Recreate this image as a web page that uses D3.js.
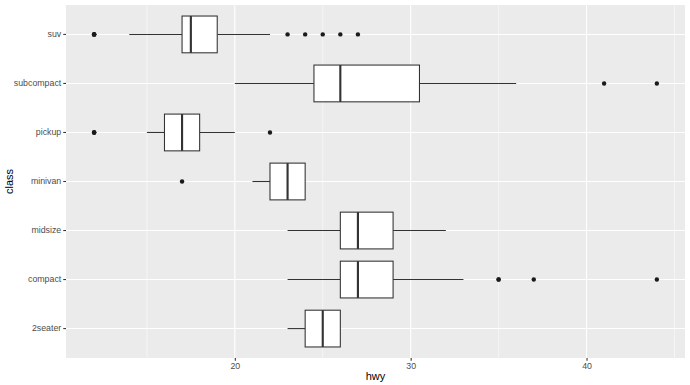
<!DOCTYPE html>
<html>
<head>
<meta charset="utf-8">
<script src="https://cdn.jsdelivr.net/npm/d3@7"></script>
<style>
  body { margin: 0; background: #fff; }
  text { font-family: "Liberation Sans", Arial, sans-serif; }
</style>
</head>
<body>
<div id="chart-area"></div>
<script>
// hwy by class (mpg)
var classes = ["2seater", "compact", "midsize", "minivan", "pickup", "subcompact", "suv"];
var lowerWhisker = [23, 23, 23, 21, 15, 20, 14];
var q1 = [24, 26, 26, 22, 16, 24.5, 17];
var median = [25, 27, 27, 23, 17, 26, 17.5];
var q3 = [26, 29, 29, 24, 18, 30.5, 19];
var upperWhisker = [26, 33, 32, 24, 20, 36, 22];
var outliers = [
    [],
    [35, 37, 35, 44],
    [],
    [17],
    [12, 12, 12, 22],
    [44, 41],
    [12, 12, 12, 12, 23, 24, 25, 26, 27]
];
var xTicks = [20, 30, 40];
var xMinor = [15, 25, 35, 45];

var width = 690, height = 385;
var margin = {top: 5, right: 5, bottom: 27, left: 66};

var svg = d3.select("#chart-area").append("svg")
    .attr("width", width)
    .attr("height", height);

var x = d3.scaleLinear()
    .domain([10.4, 45.6])
    .range([margin.left, width - margin.right]);

var y = d3.scaleBand()
    .domain(classes.slice().reverse())
    .range([margin.top, height - margin.bottom])
    .paddingOuter(0.1)
    .paddingInner(0);

var pw = width - margin.right - margin.left;
var ph = height - margin.bottom - margin.top;

svg.append("rect")
    .attr("x", margin.left).attr("y", margin.top)
    .attr("width", pw).attr("height", ph)
    .attr("fill", "#EBEBEB");

// grid
svg.selectAll(".minor").data(xMinor).enter().append("line")
    .attr("x1", d => x(d)).attr("x2", d => x(d))
    .attr("y1", margin.top).attr("y2", margin.top + ph)
    .attr("stroke", "#fff").attr("stroke-width", 0.53);

svg.selectAll(".major").data(xTicks).enter().append("line")
    .attr("x1", d => x(d)).attr("x2", d => x(d))
    .attr("y1", margin.top).attr("y2", margin.top + ph)
    .attr("stroke", "#fff").attr("stroke-width", 1.07);

svg.selectAll(".hgrid").data(classes).enter().append("line")
    .attr("x1", margin.left).attr("x2", margin.left + pw)
    .attr("y1", d => y(d) + y.bandwidth() / 2).attr("y2", d => y(d) + y.bandwidth() / 2)
    .attr("stroke", "#fff").attr("stroke-width", 1.07);

// boxes
var bw = y.bandwidth() * 0.75;
var g = svg.selectAll(".box").data(classes).enter().append("g");

g.append("line")
    .attr("x1", (d, i) => x(lowerWhisker[i])).attr("x2", (d, i) => x(q1[i]))
    .attr("y1", d => y(d) + y.bandwidth() / 2).attr("y2", d => y(d) + y.bandwidth() / 2)
    .attr("stroke", "#333").attr("stroke-width", 1.07);

g.append("line")
    .attr("x1", (d, i) => x(q3[i])).attr("x2", (d, i) => x(upperWhisker[i]))
    .attr("y1", d => y(d) + y.bandwidth() / 2).attr("y2", d => y(d) + y.bandwidth() / 2)
    .attr("stroke", "#333").attr("stroke-width", 1.07);

g.append("rect")
    .attr("x", (d, i) => x(q1[i]))
    .attr("width", (d, i) => x(q3[i]) - x(q1[i]))
    .attr("y", d => y(d) + (y.bandwidth() - bw) / 2)
    .attr("height", bw)
    .attr("fill", "#fff").attr("stroke", "#333").attr("stroke-width", 1.07);

g.append("line")
    .attr("x1", (d, i) => x(median[i])).attr("x2", (d, i) => x(median[i]))
    .attr("y1", d => y(d) + (y.bandwidth() - bw) / 2)
    .attr("y2", d => y(d) + (y.bandwidth() + bw) / 2)
    .attr("stroke", "#333").attr("stroke-width", 2.13);

classes.forEach((c, i) => {
    svg.selectAll(".out" + i).data(outliers[i]).enter().append("circle")
        .attr("cx", d => x(d))
        .attr("cy", y(c) + y.bandwidth() / 2)
        .attr("r", 2.2)
        .attr("fill", "#1a1a1a");
});

// axes
var xAxis = svg.append("g")
    .attr("transform", "translate(0," + (margin.top + ph) + ")")
    .call(d3.axisBottom(x).tickValues(xTicks).tickSize(2.75).tickPadding(2));
var yAxis = svg.append("g")
    .attr("transform", "translate(" + margin.left + ",0)")
    .call(d3.axisLeft(y).tickSize(2.75).tickPadding(2));

[xAxis, yAxis].forEach(a => {
    a.select(".domain").remove();
    a.selectAll(".tick line").attr("stroke", "#333").attr("stroke-width", 1.07);
    a.selectAll(".tick text").attr("fill", "#4D4D4D").style("font-size", "8.8px");
});

svg.append("text")
    .attr("x", margin.left + pw / 2).attr("y", height - 5)
    .attr("text-anchor", "middle")
    .style("font-size", "11px")
    .text("hwy");

svg.append("text")
    .attr("transform", "translate(13," + (margin.top + ph / 2) + ") rotate(-90)")
    .attr("text-anchor", "middle")
    .style("font-size", "11px")
    .text("class");
</script>
</body>
</html>
